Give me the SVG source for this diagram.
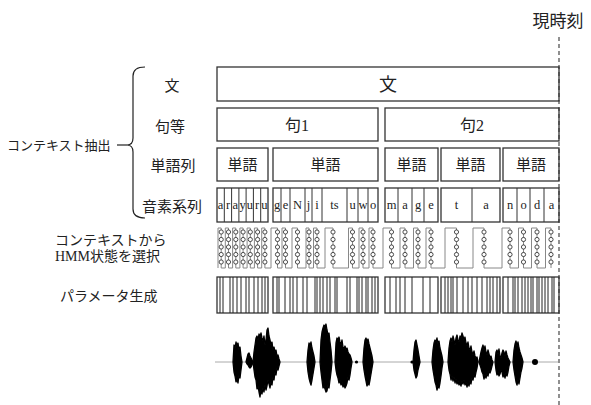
<svg xmlns="http://www.w3.org/2000/svg" xmlns:xlink="http://www.w3.org/1999/xlink" width="591" height="405" viewBox="0 0 591 405">
<style>
.t{font-family:"Liberation Serif","Noto Sans CJK JP",serif;fill:#222}
.box{fill:none;stroke:#333;stroke-width:1.3}
.ph{font-family:"Liberation Serif",serif;font-size:12.5px;fill:#222;text-anchor:middle}
.fr{stroke:#222;stroke-width:1}
.st{fill:#fff;stroke:#222;stroke-width:0.8}
.wv{fill:#000;stroke:#000;stroke-width:1.3;stroke-linejoin:round}
</style>
<defs>
<g id="col">
<circle class="st" cx="0" cy="232" r="2.1"/>
<circle class="st" cx="0" cy="239.5" r="2.1"/>
<circle class="st" cx="0" cy="247" r="2.1"/>
<circle class="st" cx="0" cy="254.5" r="2.1"/>
<circle class="st" cx="0" cy="262" r="2.1"/>
</g>
</defs>
<rect width="591" height="405" fill="#fff"/>

<g id="now">
<line x1="559" y1="37" x2="559" y2="405" stroke="#555" stroke-width="1.3" stroke-dasharray="4,3"/>
<text class="t" x="558" y="27" font-size="17" text-anchor="middle">現時刻</text>
</g>

<g id="context-label">
<text class="t" x="7" y="150" font-size="13">コンテキスト抽出</text>
</g>
<g id="connectors">
<line x1="117" y1="145" x2="127" y2="145" stroke="#222" stroke-width="1.2"/>
<path d="M145,67 Q133,67 133,76 L133,138 Q133,145 127,145 Q133,145 133,152 L133,209 Q133,218 145,218" fill="none" stroke="#222" stroke-width="1.2"/>
</g>

<g id="row-labels" class="t" font-size="15" text-anchor="middle">
<text x="172" y="91">文</text>
<text x="170" y="132">句等</text>
<text x="173" y="171">単語列</text>
<text x="172" y="212">音素系列</text>
<text x="55" y="245" font-size="14" text-anchor="start">コンテキストから</text>
<text x="55" y="261" font-size="14" text-anchor="start">HMM状態を選択</text>
<text x="60" y="301" font-size="14" text-anchor="start">パラメータ生成</text>
</g>

<g id="sentence">
<rect class="box" x="217" y="67" width="342" height="34"/>
<text class="t" x="388" y="91" font-size="18" text-anchor="middle">文</text>
</g>

<g id="phrase1">
<rect class="box" x="217" y="108" width="161" height="33"/>
<text class="t" x="297" y="131" font-size="16" text-anchor="middle">句1</text>
</g>
<g id="phrase2">
<rect class="box" x="385" y="108" width="174" height="33"/>
<text class="t" x="472" y="131" font-size="16" text-anchor="middle">句2</text>
</g>

<g id="words" class="t" font-size="15" text-anchor="middle">
<rect class="box" x="217" y="148" width="51" height="33"/><text x="242.5" y="170">単語</text>
<rect class="box" x="273" y="148" width="105" height="33"/><text x="325.5" y="170">単語</text>
<rect class="box" x="385" y="148" width="53" height="33"/><text x="411.5" y="170">単語</text>
<rect class="box" x="441" y="148" width="59" height="33"/><text x="470.5" y="170">単語</text>
<rect class="box" x="503" y="148" width="56" height="33"/><text x="531" y="170">単語</text>
</g>

<g id="phonemes">
<rect class="box" x="217" y="188" width="51" height="34"/>
<rect class="box" x="273" y="188" width="105" height="34"/>
<rect class="box" x="385" y="188" width="53" height="34"/>
<rect class="box" x="441" y="188" width="59" height="34"/>
<rect class="box" x="503" y="188" width="56" height="34"/>
<g stroke="#333" stroke-width="1">
<line x1="224.3" y1="188" x2="224.3" y2="222"/><line x1="231.6" y1="188" x2="231.6" y2="222"/><line x1="238.9" y1="188" x2="238.9" y2="222"/><line x1="246.1" y1="188" x2="246.1" y2="222"/><line x1="253.4" y1="188" x2="253.4" y2="222"/><line x1="260.7" y1="188" x2="260.7" y2="222"/>
<line x1="281" y1="188" x2="281" y2="222"/><line x1="290" y1="188" x2="290" y2="222"/><line x1="305" y1="188" x2="305" y2="222"/><line x1="312" y1="188" x2="312" y2="222"/><line x1="322" y1="188" x2="322" y2="222"/><line x1="347" y1="188" x2="347" y2="222"/><line x1="358" y1="188" x2="358" y2="222"/><line x1="368" y1="188" x2="368" y2="222"/>
<line x1="398" y1="188" x2="398" y2="222"/><line x1="412" y1="188" x2="412" y2="222"/><line x1="424" y1="188" x2="424" y2="222"/>
<line x1="472" y1="188" x2="472" y2="222"/>
<line x1="517" y1="188" x2="517" y2="222"/><line x1="530" y1="188" x2="530" y2="222"/><line x1="544" y1="188" x2="544" y2="222"/>
</g>
<g class="ph">
<text x="220.6" y="209">a</text><text x="228" y="209">r</text><text x="235.2" y="209">a</text><text x="242.5" y="209">y</text><text x="249.8" y="209">u</text><text x="257" y="209">r</text><text x="264.3" y="209">u</text>
<text x="277" y="209">g</text><text x="285.5" y="209">e</text><text x="297.5" y="209">N</text><text x="308.5" y="209">j</text><text x="317" y="209">i</text><text x="334.5" y="209">ts</text><text x="352.5" y="209">u</text><text x="363" y="209">w</text><text x="373" y="209">o</text>
<text x="391.5" y="209">m</text><text x="405" y="209">a</text><text x="418" y="209">g</text><text x="431" y="209">e</text>
<text x="456.5" y="209">t</text><text x="486" y="209">a</text>
<text x="510" y="209">n</text><text x="523.5" y="209">o</text><text x="537" y="209">d</text><text x="551.5" y="209">a</text>
</g>
</g>

<g id="hmm-states">
<path fill="none" stroke="#888" stroke-width="1" d="M218,268 L218,228 L221.2,228 L221.2,268 L225.3,268 L225.3,228 L228.5,228 L228.5,268 L232.6,268 L232.6,228 L235.8,228 L235.8,268 L239.9,268 L239.9,228 L243.1,228 L243.1,268 L247.1,268 L247.1,228 L250.3,228 L250.3,268 L254.4,268 L254.4,228 L257.6,228 L257.6,268 L261.7,268 L261.7,228 L264.9,228 L264.9,268 L271,268 L271,228 L277.5,228 L277.5,268 L282,268 L282,228 L285.5,228 L285.5,268 L292,268 L292,228 L297.5,228 L297.5,268 L306,268 L306,228 L309,228 L309,268 L313.5,268 L313.5,228 L317,228 L317,268 L325,268 L325,228 L333,228 L333,268 L348.5,268 L348.5,228 L352.5,228 L352.5,268 L359,268 L359,228 L363,228 L363,268 L369,268 L369,228 L373,228 L373,268 L383,268 L383,228 L391.5,228 L391.5,268 L400,268 L400,228 L405,228 L405,268 L413.5,268 L413.5,228 L418,228 L418,268 L426,268 L426,228 L431,228 L431,268 L445,268 L445,228 L456.5,228 L456.5,268 L473,268 L473,228 L484,228 L484,268 L502,268 L502,228 L510,228 L510,268 L518.5,268 L518.5,228 L523.5,228 L523.5,268 L531.5,268 L531.5,228 L537,228 L537,268 L545.5,268 L545.5,228 L551,228 L551,268"/>
<use xlink:href="#col" x="221.2"/><use xlink:href="#col" x="228.5"/><use xlink:href="#col" x="235.8"/><use xlink:href="#col" x="243.1"/><use xlink:href="#col" x="250.3"/><use xlink:href="#col" x="257.6"/><use xlink:href="#col" x="264.9"/>
<use xlink:href="#col" x="277.5"/><use xlink:href="#col" x="285.5"/><use xlink:href="#col" x="297.5"/><use xlink:href="#col" x="309"/><use xlink:href="#col" x="317"/><use xlink:href="#col" x="333"/><use xlink:href="#col" x="352.5"/><use xlink:href="#col" x="363"/><use xlink:href="#col" x="373"/>
<use xlink:href="#col" x="391.5"/><use xlink:href="#col" x="405"/><use xlink:href="#col" x="418"/><use xlink:href="#col" x="431"/>
<use xlink:href="#col" x="456.5"/><use xlink:href="#col" x="484"/>
<use xlink:href="#col" x="510"/><use xlink:href="#col" x="523.5"/><use xlink:href="#col" x="537"/><use xlink:href="#col" x="551"/>
</g>

<g id="parameters">
<rect class="box" x="217" y="277" width="51" height="36"/>
<rect class="box" x="273" y="277" width="105" height="36"/>
<rect class="box" x="385" y="277" width="53" height="36"/>
<rect class="box" x="441" y="277" width="59" height="36"/>
<rect class="box" x="503" y="277" width="56" height="36"/>
<path class="fr" d="M220,277V313M223,277V313M230,277V313M233,277V313M237,277V313M241,277V313M246,277V313M249,277V313M254,277V313M258,277V313M262,277V313M265,277V313
M277,277V313M279,277V313M285,277V313M290,277V313M293,277V313M297,277V313M303,277V313M307,277V313M315,277V313M317,277V313M320,277V313M323,277V313M327,277V313M330,277V313M335,277V313M337,277V313M347,277V313M350,277V313M357,277V313M359,277V313M362,277V313M366,277V313M368,277V313M372,277V313M375,277V313
M390,277V313M396,277V313M400,277V313M405,277V313M412,277V313M423,277V313M430,277V313
M445,277V313M448,277V313M451,277V313M453,277V313M457,277V313M463,277V313M468,277V313M472,277V313M477,277V313M482,277V313M487,277V313M490,277V313M493,277V313M497,277V313
M508,277V313M513,277V313M515,277V313M518,277V313M522,277V313M525,277V313M528,277V313M531,277V313M533,277V313M537,277V313M539,277V313M542,277V313M545,277V313M548,277V313M552,277V313M554,277V313"/>
</g>

<g id="waveform">
<line x1="215" y1="362" x2="558" y2="362" stroke="#aaa" stroke-width="1"/>
<path class="wv" d="M233,362 L234,345 235,348 236,342 237,346 238,343 239,350 240,347 241,356 242,362 241,370 240,378 239,375 238,383 237,379 236,382 235,376 234,372Z"/>
<path class="wv" d="M246,362 L247,358 248,354 249,353 250,356 251,358 252,360 253,362 252,365 251,367 250,368 249,367 248,365 247,364Z"/>
<path class="wv" d="M253,362 L254,352 255,345 256,338 257,336 258,340 259,334 260,337 261,333 262,338 263,341 264,336 265,345 266,340 267,330 268,328 269,336 270,340 271,345 272,342 273,350 274,347 275,352 276,350 277,356 278,355 279,359 280,362 279,366 278,370 277,368 276,375 275,372 274,380 273,377 272,385 271,382 270,388 269,384 268,380 267,386 266,390 265,385 264,392 263,388 262,394 261,390 260,397 259,392 258,386 257,389 256,380 255,377 254,370Z"/>
<path class="wv" d="M307,362 L308,350 309,343 310,346 311,342 312,348 313,352 314,356 315,362 314,368 313,374 312,380 311,385 310,382 309,378 308,372Z"/>
<path class="wv" d="M320,362 L321,340 322,332 323,328 324,325 325,327 326,324 327,330 328,335 329,333 330,342 331,350 332,362 331,372 330,380 329,388 328,385 327,391 326,392 325,389 324,386 323,388 322,380 321,372Z"/>
<path class="wv" d="M335,362 L336,343 337,338 338,340 339,337 340,342 341,345 342,340 343,347 344,349 345,346 346,350 347,348 348,352 349,354 350,355 351,358 352,362 351,368 350,375 349,380 348,377 347,383 346,386 345,388 344,384 343,387 342,382 341,385 340,380 339,383 338,378 337,375 336,370Z"/>
<circle cx="356.5" cy="362" r="1.6" fill="#000"/>
<path class="wv" d="M363,362 L364,348 365,340 366,338 367,342 368,339 369,344 370,348 371,352 372,356 373,362 372,368 371,374 370,380 369,385 368,383 367,386 366,381 365,376 364,370Z"/>
<circle cx="412" cy="362" r="1.6" fill="#000"/>
<path class="wv" d="M413,362 L414,350 415,342 416,340 417,345 418,350 419,356 420,362 419,366 418,370 417,376 416,378 415,374 414,370Z"/>
<path class="wv" d="M432,362 L433,350 434,343 435,340 436,342 437,338 438,344 439,341 440,348 441,352 442,356 443,362 442,368 441,376 440,383 439,388 438,386 437,390 436,385 435,382 434,376 433,370Z"/>
<path class="wv" d="M448,362 L449,348 450,341 451,338 452,342 453,336 454,340 455,345 456,338 457,335 458,340 459,342 460,336 461,338 462,333 463,336 464,340 465,337 466,343 467,346 468,342 469,348 470,350 471,346 472,352 473,355 474,351 475,356 476,358 477,357 478,362 477,368 476,372 475,377 474,375 473,380 472,378 471,384 470,381 469,386 468,383 467,387 466,382 465,385 464,380 463,384 462,381 461,386 460,383 459,385 458,381 457,384 456,379 455,383 454,377 453,381 452,376 451,380 450,374 449,370Z"/>
<path class="wv" d="M479,362 L481,352 482,348 483,345 484,350 485,346 486,352 487,355 488,350 489,354 490,358 491,356 492,360 493,362 492,366 491,370 490,373 489,371 488,376 487,374 486,378 485,375 484,379 483,374 482,372 481,368Z"/>
<path class="wv" d="M495,362 L496,352 497,350 498,354 499,349 500,356 501,358 502,353 503,350 504,352 505,356 506,351 507,355 508,358 509,360 510,362 509,366 508,372 507,376 506,373 505,378 504,374 503,377 502,372 501,370 500,374 499,376 498,372 497,375 496,370Z"/>
<path class="wv" d="M513,362 L514,350 515,344 516,341 517,346 518,342 519,348 520,352 521,355 522,358 523,362 522,368 521,372 520,378 519,384 518,380 517,385 516,382 515,376 514,370Z"/>
<circle cx="535" cy="362" r="3" fill="#000"/>
</g>
</svg>
